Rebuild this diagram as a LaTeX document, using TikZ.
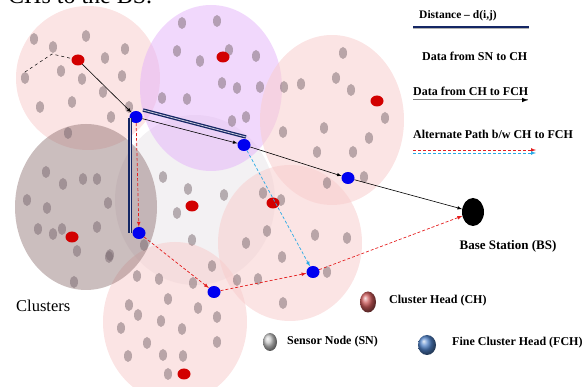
\documentclass[tikz,border=0pt]{standalone}
\usepackage{fontspec}
\setmainfont{Liberation Serif}
\usetikzlibrary{shapes.geometric}
\definecolor{clpink}{RGB}{248,205,205}
\definecolor{clpurple}{RGB}{228,178,250}
\definecolor{clbrown}{RGB}{140,110,110}
\definecolor{clgrey}{RGB}{243,241,243}
\definecolor{sngrey}{RGB}{120,104,110}
\definecolor{chred}{RGB}{210,0,0}
\definecolor{fchblue}{RGB}{0,0,240}
\definecolor{navyline}{RGB}{20,38,100}
\definecolor{altred}{RGB}{228,30,30}
\definecolor{altcyan}{RGB}{40,170,230}
\tikzset{
  ch/.style={ellipse, fill=chred, minimum width=13pt, minimum height=11pt, inner sep=0pt},
  fch/.style={ellipse, fill=fchblue, minimum width=13pt, minimum height=12pt, inner sep=0pt},
  data/.style={->, line width=.6pt},
  alt/.style={->, dash pattern=on 3pt off 2pt, line width=.7pt},
  dist/.style={draw=navyline, double={rgb,255:red,205;green,205;blue,220}, double distance=.8pt, line width=1.3pt},
  legtext/.style={font=\fontsize{12}{14}\selectfont\bfseries, anchor=west, inner sep=0pt}
}
\begin{document}
\begin{tikzpicture}[x=1pt, y=-1pt, >=latex]
  \useasboundingbox (0,0) rectangle (587,387);
  \clip (0,0) rectangle (587,387);
  \node[anchor=base west, inner sep=0pt, font=\fontsize{24}{26}\selectfont] (title) at (8,4) {CHs to the BS.};
  \fill[clgrey] (195,200) ellipse (80pt and 85pt);
  \fill[clpink, opacity=.55] (88,78) ellipse (72pt and 72pt);
  \fill[clpurple, opacity=.5] (211,88) ellipse (71pt and 83pt);
  \fill[clpink, opacity=.55] (332,120) ellipse (72pt and 85pt);
  \fill[clpink, opacity=.55] (290,243) ellipse (72pt and 78pt);
  \fill[clpink, opacity=.55] (175,322) ellipse (72pt and 80pt);
  \fill[clbrown, opacity=.45] (86,207) ellipse (71pt and 83pt);
  \foreach \x/\y in {34/39,53/47,86/36,105/58,125/49,61/71,82/79,103/92,122/76,25/78,40/107,72/102,111/117,129/107,68/133,
      182/23,217/21,177/51,200/61,229/50,256/56,222/83,237/88,260/87,162/98,187/99,232/121,246/117,284/87,283/132,
      46/172,63/184,83/179,97/179,27/200,47/208,38/229,53/234,62/229,77/251,97/227,108/203,109/257,74/282,
      137/276,144/245,159/279,177/213,188/189,192/240,163/177,224/195,212/266,193/283,168/299,129/305,138/315,161/321,
      182/329,198/308,217/317,121/328,147/343,128/356,163/355,183/356,217/342,168/374,
      246/243,267/231,282/257,237/280,258/279,283/303,263/193,281/200,315/235,347/238,317/152,324/128,353/152,327/183,
      110/255,327/272,343/53,301/84,336/78,351/90,385/118,369/138,364/177}
    \fill[sngrey, opacity=.5] (\x,\y) ellipse (4pt and 6pt);
  \node[ch] (ch1) at (78,60) {};
  \node[ch] (ch2) at (223,57) {};
  \node[ch] (ch3) at (377,101) {};
  \node[ch] (ch4) at (192,206) {};
  \node[ch] (ch5) at (273,203) {};
  \node[ch] (ch6) at (72,237) {};
  \node[ch] (ch7) at (184,374) {};
  \node[fch] (f1) at (136,117) {};
  \node[fch] (f2) at (244,145) {};
  \node[fch] (f3) at (348,178) {};
  \node[fch] (f4) at (139,233) {};
  \node[fch] (f5) at (214,292) {};
  \node[fch] (f6) at (313,272) {};
  \node[ellipse, fill=black, minimum width=22pt, minimum height=28pt, inner sep=0pt] (bs) at (473,212) {};
  \coordinate (s1) at (25,72);
  \coordinate (s2) at (52,54);
  \draw[dashed, line width=.5pt] (s1) -- (s2) -- (ch1);
  \coordinate (d1) at (143,110);
  \coordinate (d2) at (246,137);
  \coordinate (d3) at (130,118);
  \coordinate (d4) at (130,233);
  \draw[dist] (d1) -- (d2);
  \draw[dist] (d3) -- (d4);
  \draw[data] (ch1) -- (f1);
  \draw[data] (f1) -- (f2);
  \draw[data] (f2) -- (f3);
  \draw[data] (f3) -- (bs);
  \draw[alt, altred] (f1) -- (f4);
  \draw[alt, altred] (f4) -- (f5);
  \draw[alt, altred] (f5) -- (f6);
  \draw[alt, altred] (f6) -- (bs);
  \draw[alt, altcyan] (f2) -- (f6);
  % legend
  \node[legtext, font=\fontsize{11.5}{13}\selectfont\bfseries] (ldist) at (419,16) {Distance -- d(i,j)};
  \coordinate (l1a) at (413,27);
  \coordinate (l1b) at (529,27);
  \draw[gray!60, line width=1.2pt] ([yshift=-1.6pt]l1a) -- ([yshift=-1.6pt]l1b);
  \draw[navyline, line width=2.2pt] (l1a) -- (l1b);
  \node[legtext] (lsn) at (422,56) {Data from SN to CH};
  \node[legtext] (lch) at (413,91) {Data from CH to FCH};
  \coordinate (l2a) at (413,100);
  \coordinate (l2b) at (528,100);
  \coordinate (l2c) at (522,100);
  \draw[gray, line width=1pt] (l2a) -- (l2b);
  \draw[->, line width=1pt] (l2c) -- (l2b);
  \node[legtext] (lalt) at (413,134) {Alternate Path b/w CH to FCH};
  \coordinate (l3a) at (413,150);
  \coordinate (l3b) at (536,150);
  \coordinate (l4a) at (413,153);
  \coordinate (l4b) at (536,153);
  \draw[alt, altred] (l3a) -- (l3b);
  \draw[alt, altcyan] (l4a) -- (l4b);
  \node[legtext, font=\fontsize{13}{15}\selectfont\bfseries, anchor=center] (lbs) at (508,246) {Base Station (BS)};
  \node[ellipse, minimum width=16pt, minimum height=21pt, inner sep=0pt, shading=ball, ball color={rgb,255:red,205;green,90;blue,90}] (kch) at (368,302) {};
  \node[legtext] (lkch) at (389,301) {Cluster Head (CH)};
  \node[ellipse, minimum width=14pt, minimum height=18pt, inner sep=0pt, shading=ball, ball color=gray!45] (ksn) at (270,342) {};
  \node[legtext] (lksn) at (287,342) {Sensor Node (SN)};
  \node[ellipse, minimum width=18pt, minimum height=20pt, inner sep=0pt, shading=ball, ball color={rgb,255:red,80;green,130;blue,200}] (kfch) at (427,345) {};
  \node[legtext] (lkfch) at (452,343) {Fine Cluster Head (FCH)};
  \node[anchor=west, inner sep=0pt, font=\fontsize{16.5}{18}\selectfont] (lclus) at (16,306) {Clusters};
\end{tikzpicture}
\end{document}
